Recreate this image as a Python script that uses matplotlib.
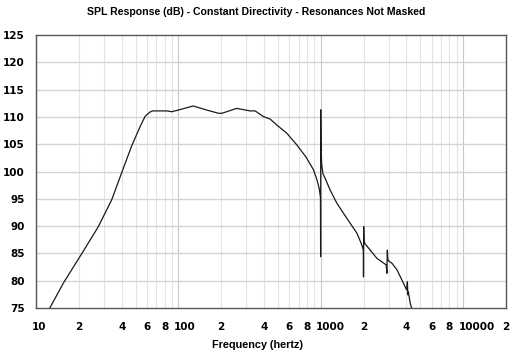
import matplotlib
matplotlib.use("Agg")
import matplotlib.pyplot as plt
from matplotlib.ticker import FixedLocator, NullFormatter
from matplotlib.transforms import ScaledTranslation

freq = [12.5, 15.6, 20.9, 27.4, 34.0, 40.0, 47.0, 53.8, 58.4, 63.2, 66.0, 74, 82.8, 89.7, 100,
        127, 158, 191.6, 202, 257, 319, 346, 396, 441, 492, 578, 680, 790, 889, 937, 975, 995,
        998, 999.5, 1004, 1015, 1035, 1074, 1164, 1297, 1527, 1795, 1946, 1992, 1996, 2002, 2012,
        2040, 2163, 2478, 2880, 2915, 2935, 2955, 3000, 3163, 3429, 3814, 4010, 4060, 4090, 4120,
        4248, 4400]
spl = [75.0, 79.6, 84.9, 89.9, 94.8, 99.8, 104.7, 108.2, 110.1, 110.9, 111.1, 111.1, 111.1, 110.95, 111.26,
       112.0, 111.26, 110.66, 110.66, 111.56, 111.1, 111.1, 110.05, 109.6, 108.5, 107.0, 104.85, 102.6, 100.3, 98.6, 96.9, 95.3,
       84.4, 111.3, 104.5, 101.3, 99.6, 98.75, 96.6, 94.2, 91.4, 88.7, 86.5, 85.6, 80.7, 89.9, 87.5,
       86.8, 86.0, 84.1, 82.9, 81.35, 85.6, 84.0, 83.6, 83.2, 82.0, 79.5, 78.3, 79.8, 77.4, 78.0,
       75.9, 74.5]

xtick_pos = [10, 20, 40, 60, 80, 100, 200, 400, 600, 800, 1000, 2000, 4000, 6000, 8000, 10000, 20000]
xtick_lab = ["10", "2", "4", "6", "8", "100", "2", "4", "6", "8", "1000", "2", "4", "6", "8", "10000", "2"]
yticks = [75, 80, 85, 90, 95, 100, 105, 110, 115, 120, 125]

fig = plt.figure(figsize=(5.12, 3.59), dpi=100)
ax = fig.add_axes([36/512, 1-308/359, 470/512, 273/359])
ax.set_xscale("log")
ax.set_xlim(10, 20000)
ax.set_ylim(75, 125)

minor = [m * d for d in (10, 100, 1000, 10000) for m in range(2, 10) if m * d < 20000]
for v in minor:
    ax.axvline(v, color="#e4e4e4", lw=0.8, zorder=0)
for v in (100, 1000, 10000):
    ax.axvline(v, color="#c8c8c8", lw=0.8, zorder=0)
for v in yticks[1:-1]:
    ax.axhline(v, color="#d4d4d4", lw=1.0, zorder=0)

ax.plot(freq, spl, color="#1a1a1a", lw=0.9, zorder=3)

ax.xaxis.set_major_locator(FixedLocator(xtick_pos))
ax.set_xticklabels(xtick_lab)
ax.xaxis.set_minor_locator(FixedLocator([]))
ax.xaxis.set_minor_formatter(NullFormatter())
ax.set_yticks(yticks)
ax.tick_params(axis="x", length=0, labelsize=7.5, pad=10)
ax.tick_params(axis="y", length=0, labelsize=7.5, pad=8)
for lab in ax.get_xticklabels() + ax.get_yticklabels():
    lab.set_fontweight("bold")
for lab in ax.get_xticklabels():
    if len(lab.get_text()) > 1:
        lab.set_horizontalalignment("left")
        lab.set_transform(lab.get_transform() + ScaledTranslation(-4.5/100, 0, fig.dpi_scale_trans))
for s in ax.spines.values():
    s.set_color("#555555")
    s.set_linewidth(1.0)

fig.text((85 + 428) / 2 / 512, 1 - 12/359, "SPL Response (dB) - Constant Directivity - Resonances Not Masked",
         ha="center", va="center", fontsize=7.6, fontweight="bold", family="Liberation Sans")
fig.text((214 + 300) / 2 / 512, 1 - 345/359, "Frequency (hertz)", ha="center", va="center",
         fontsize=7.8, fontweight="bold", family="Liberation Sans")

fig.savefig("out.png", dpi=100, facecolor="white")
